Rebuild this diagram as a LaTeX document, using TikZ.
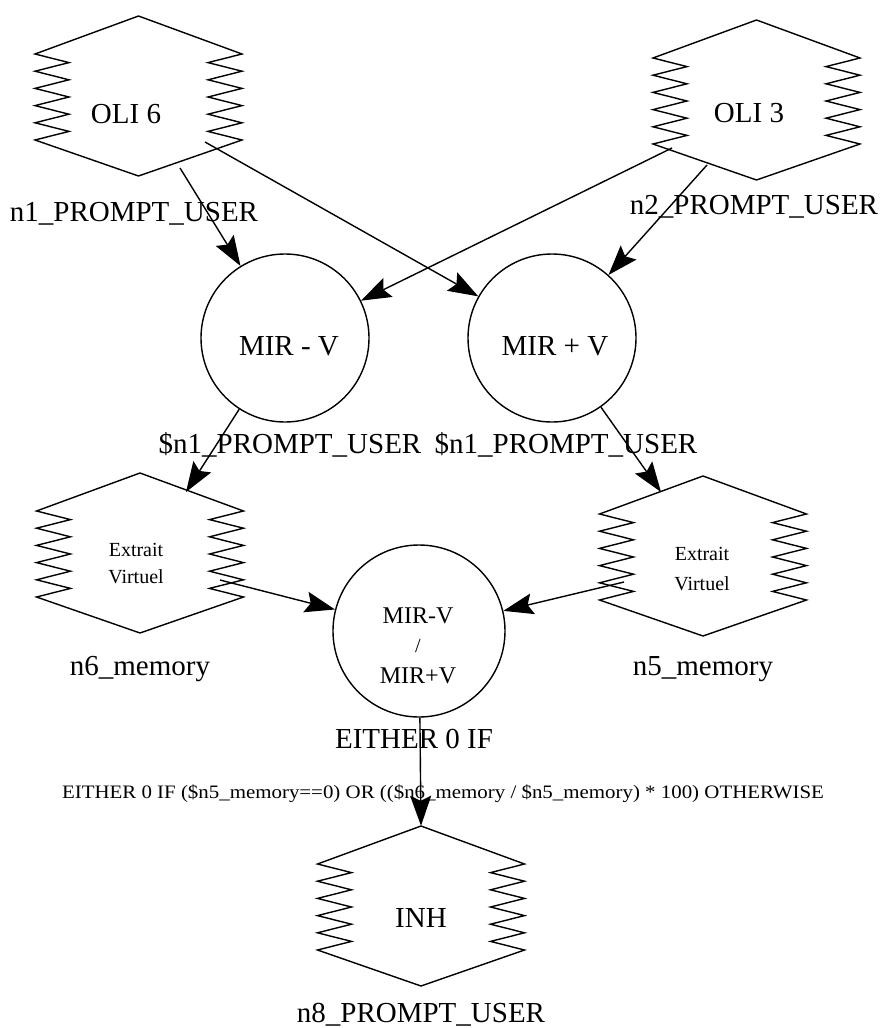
\documentclass[tikz,border=0pt]{standalone}
\usepackage{fontspec}
\setmainfont{Liberation Serif}
\usetikzlibrary{calc,arrows.meta}
\tikzset{
  hexbox/.style={rectangle, draw=none, minimum width=207pt, minimum height=160pt, inner sep=0pt},
  roundnode/.style={circle, draw, line width=1.4pt, inner sep=0pt},
  outline/.style={line width=1.4pt, line join=miter},
  conn/.style={line width=1.4pt, -{Stealth[length=30pt,width=21pt,inset=5pt]}},
  big/.style={anchor=base, inner sep=0pt, font=\fontsize{29}{34}\selectfont},
  mid/.style={anchor=base, inner sep=0pt, font=\fontsize{24}{28}\selectfont},
  small/.style={anchor=base, inner sep=0pt, font=\fontsize{20}{24}\selectfont},
  tiny/.style={anchor=base, inner sep=0pt, font=\fontsize{19}{22}\selectfont},
}
\newcommand\zzoutline[1]{%
  \draw[outline] ([shift={(0,-80)}]#1.center) -- ++(-103.5,38)
    \foreach \k in {1,...,5}{ -- ++(34,8.6) -- ++(-34,8.6)} -- ++(103.5,36)
    -- ++(103.5,-36)
    \foreach \k in {1,...,5}{ -- ++(-34,-8.6) -- ++(34,-8.6)} -- cycle;
}
\begin{document}
\begin{tikzpicture}[x=1pt,y=-1pt]
\fill[white] (0,0) rectangle (883,1028);
\useasboundingbox (0,0) rectangle (883,1028);

% hexagonal nodes
\node[hexbox] (oli6) at (138.5,96) {};
\node[hexbox] (oli3) at (756.5,100) {};
\node[hexbox] (n6) at (140,553) {};
\node[hexbox] (n5) at (703,556) {};
\node[hexbox] (inh) at (421,906) {};
\zzoutline{oli6}
\zzoutline{oli3}
\zzoutline{n6}
\zzoutline{n5}
\zzoutline{inh}

% round nodes
\node[roundnode, minimum size=168pt] (mirm) at (285,338) {};
\node[roundnode, minimum size=168pt] (mirp) at (552,338) {};
\node[roundnode, minimum size=172pt] (mix) at (419,631) {};

% texts
\node[big] (t-oli6) at (126,123) {OLI 6};
\node[big] (t-oli3) at (749,122) {OLI 3};
\node[big] (l-n1) at (134,221) {n1\_PROMPT\_USER};
\node[big] (l-n2) at (754,214) {n2\_PROMPT\_USER};
\node[big] (t-mirm) at (289,355) {MIR - V};
\node[big] (t-mirp) at (555,355) {MIR + V};
\node[big] (l-d1) at (290,453) {\$n1\_PROMPT\_USER};
\node[big] (l-d2) at (566,453) {\$n1\_PROMPT\_USER};
\node[small] (t-n6a) at (136,556) {Extrait};
\node[small] (t-n6b) at (136,583) {Virtuel};
\node[small] (t-n5a) at (702,560) {Extrait};
\node[small] (t-n5b) at (702,590) {Virtuel};
\node[mid] (t-mixa) at (418,623) {MIR-V};
\node[small] (t-mixb) at (418,652) {/};
\node[mid] (t-mixc) at (418,683) {MIR+V};
\node[big] (l-n6) at (140,675) {n6\_memory};
\node[big] (l-n5) at (703,675) {n5\_memory};
\node[big] (l-mix) at (414,748) {EITHER 0 IF};
\node[tiny] (l-long) at (443,798) {\scalebox{1.1}[1]{EITHER 0 IF (\$n5\_memory==0) OR ((\$n6\_memory / \$n5\_memory) * 100) OTHERWISE}};
\node[big] (t-inh) at (421,927) {INH};
\node[big] (l-n8) at (421,1022) {n8\_PROMPT\_USER};

% connectors
\draw[conn] ($(oli6.center)+(41.5,72)$) -- (mirm);
\draw[conn] ($(oli6.center)+(66.5,46)$) -- (mirp);
\draw[conn] ($(oli3.center)+(-84.5,48)$) -- (mirm);
\draw[conn] ($(oli3.center)+(-49.5,65)$) -- (mirp);
\draw[conn] (mirm) -- ($(n6.center)+(46,-61)$);
\draw[conn] (mirp) -- ($(n5.center)+(-42,-64)$);
\draw[conn] ($(n6.center)+(80,27)$) -- (mix);
\draw[conn] ($(n5.center)+(-79,26)$) -- (mix);
\draw[conn] (mix) -- (inh.north);
\end{tikzpicture}
\end{document}
